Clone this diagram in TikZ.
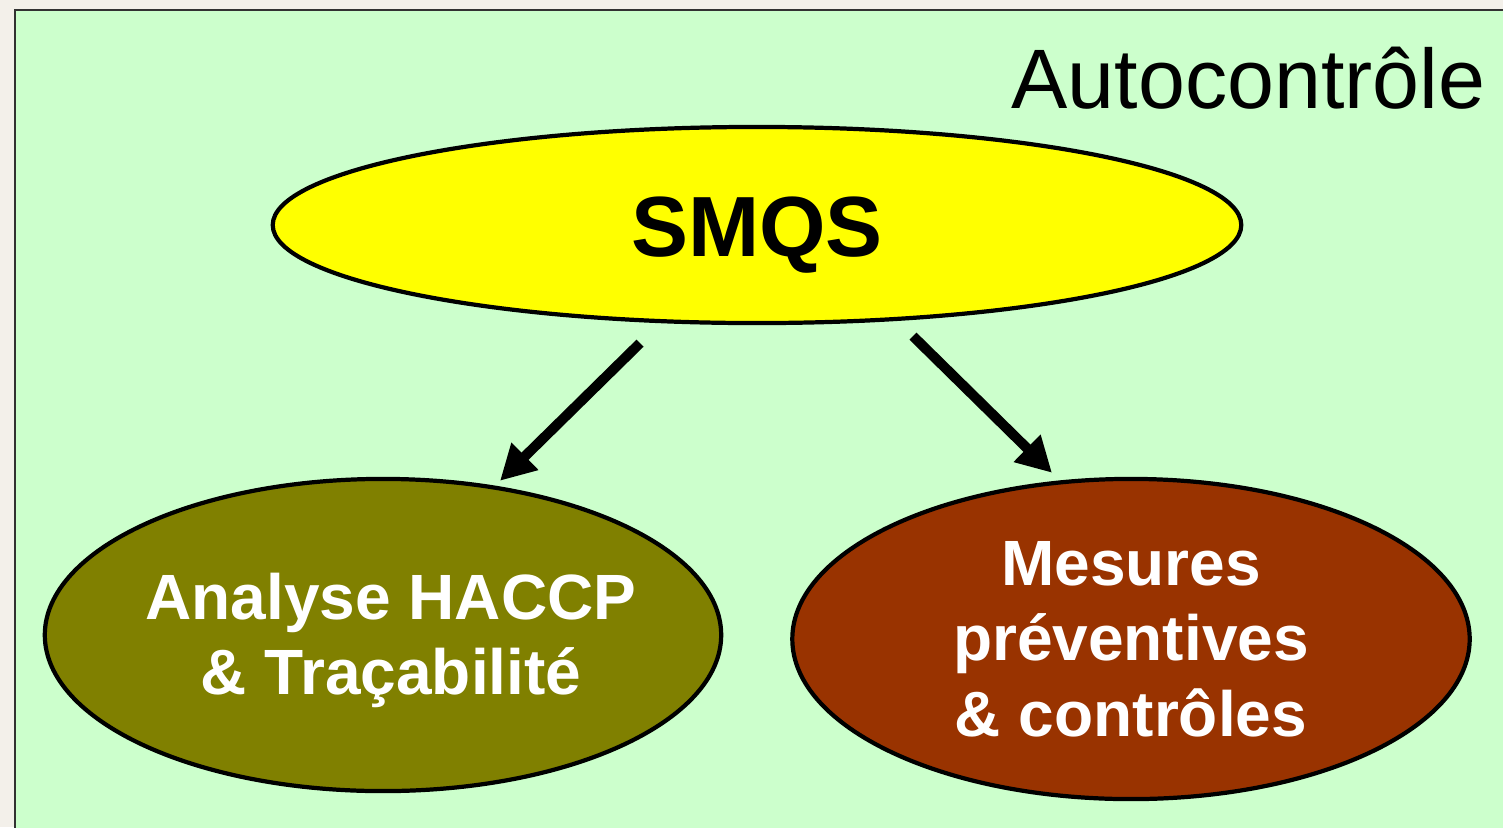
\documentclass[tikz,border=0pt]{standalone}
\usepackage{fontspec}
\setmainfont{Liberation Sans}
\usetikzlibrary{shapes.geometric,arrows.meta,calc}
\begin{document}
\begin{tikzpicture}[x=0.01cm, y=-0.01cm,
    every node/.style={font=\bfseries\fontsize{18.2}{21.5}\selectfont, align=center},
    bubble/.style={ellipse, draw=black, line width=1.2pt, inner sep=0pt},
    bigarrow/.style={line width=0.1cm, -{Triangle[length=3.5mm,width=3.6mm]}}]
        \definecolor{page}{RGB}{243,240,234}
        \definecolor{panel}{RGB}{204,255,204}
        \definecolor{frame}{RGB}{50,50,50}
        \definecolor{smqsfill}{RGB}{255,255,0}
        \definecolor{haccpfill}{RGB}{128,128,0}
        \definecolor{mesfill}{RGB}{153,51,0}
        \useasboundingbox (0,0) rectangle (1503,827);
        \fill[page] (0,0) rectangle (1503,827);
        \filldraw[panel, draw=frame, line width=0.6pt] (15,10) rectangle (1520,845);
        \node[font=\fontsize{24}{28}\selectfont, anchor=base east, inner sep=0pt] (titre) at (1486,108) {Autocontrôle};
        % ellipses
        \node[bubble, fill=smqsfill, minimum width=9.68cm, minimum height=1.96cm,
              font=\bfseries\fontsize{24.3}{28}\selectfont] (smqs) at (757,225) {\raisebox{-0.1cm}[\height][\depth]{SMQS}};
        \node[bubble, fill=haccpfill, text=white, inner xsep=-0.155cm, minimum width=6.76cm, minimum height=3.12cm] (haccp) at (383,635)
              {\raisebox{-0.07cm}[\height][\depth]{\hspace{0.16cm}\begin{tabular}{@{}c@{}}Analyse HACCP\\\& Traçabilité\end{tabular}}};
        \node[bubble, fill=mesfill, text=white, minimum width=6.77cm, minimum height=3.2cm] (mesures) at (1131,639) {Mesures\\préventives\\\& contrôles};
        \draw[bigarrow] ($(smqs.south)+(-117,18)$) -- ($(haccp.north)+(117,4)$);
        \draw[bigarrow] ($(smqs.south)+(156,11)$) -- ($(mesures.north)+(-79,-4)$);
      \end{tikzpicture}
\end{document}
